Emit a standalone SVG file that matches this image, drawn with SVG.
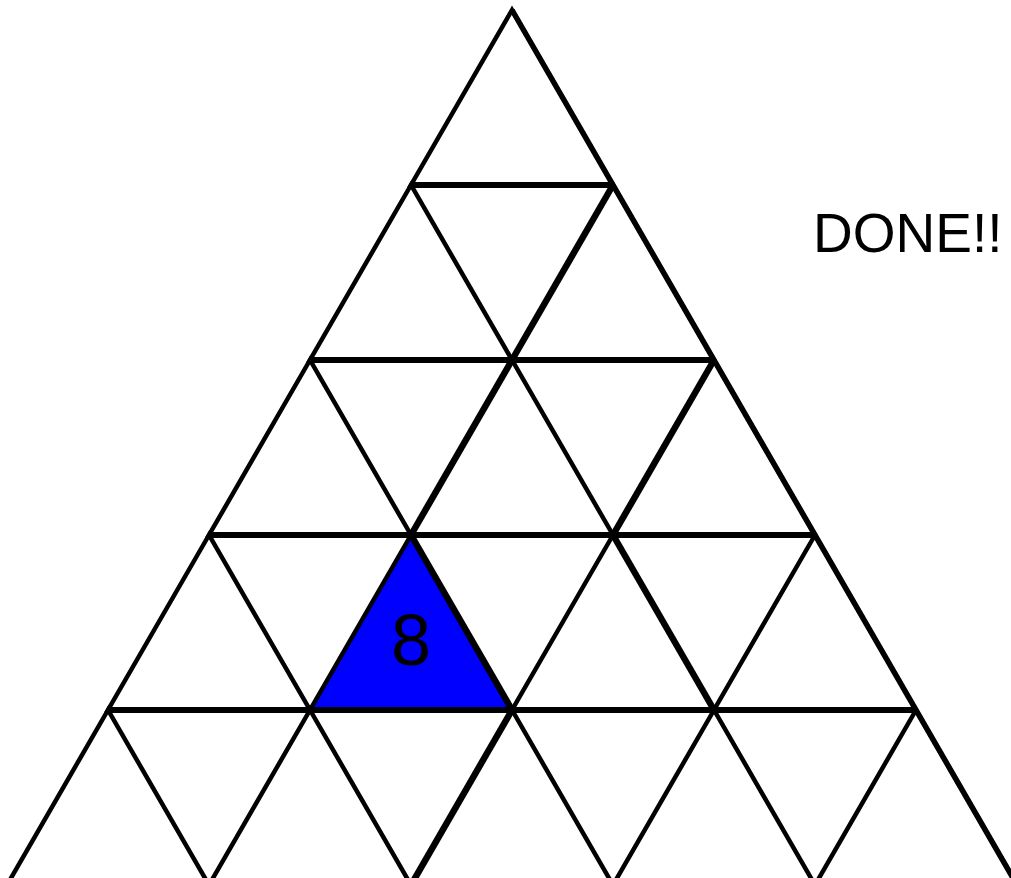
<svg xmlns="http://www.w3.org/2000/svg" width="1011" height="878" viewBox="0 0 1011 878">
<style>
.t{fill:#fff;stroke:#000;stroke-width:4.5;stroke-linejoin:miter}
.b{fill:#0000ff;stroke:#000;stroke-width:4.5}
.h{stroke:#000;stroke-width:6;fill:none}
.k{stroke:#000;stroke-width:6.5;fill:none}
.r{stroke:#000;stroke-width:5.5;fill:none}
.lbl{font-family:"Liberation Sans",Arial,sans-serif;fill:#000}
</style>
<rect width="1011" height="878" fill="#fff"/>
<g id="grid">
<polygon class="t" points="512,10 411,185 613,185"/>
<polygon class="t" points="411,185 310,360 512,360"/>
<polygon class="t" points="613,185 512,360 714,360"/>
<polygon class="t" points="310,360 209,535 411,535"/>
<polygon class="t" points="512,360 411,535 613,535"/>
<polygon class="t" points="714,360 613,535 815,535"/>
<polygon class="t" points="209,535 108,710 310,710"/>
<polygon class="t" points="613,535 512,710 714,710"/>
<polygon class="t" points="815,535 714,710 916,710"/>
<polygon class="t" points="108,710 7,885 209,885"/>
<polygon class="t" points="310,710 209,885 411,885"/>
<polygon class="t" points="512,710 411,885 613,885"/>
<polygon class="t" points="714,710 613,885 815,885"/>
<polygon class="t" points="916,710 815,885 1017,885"/>
</g>
<g id="node8">
<polygon class="b" points="411,535 310,710 512,710"/>
<text class="lbl" x="411" y="665" font-size="72" text-anchor="middle">8</text>
</g>
<g id="connectors">
<line class="h" x1="411" y1="185" x2="613" y2="185"/>
<line class="h" x1="310" y1="360" x2="714" y2="360"/>
<line class="h" x1="209" y1="535" x2="815" y2="535"/>
<line class="h" x1="108" y1="710" x2="916" y2="710"/>
<line class="k" x1="613" y1="185" x2="512" y2="360"/>
<line class="k" x1="512" y1="360" x2="411" y2="535"/>
<line class="k" x1="714" y1="360" x2="613" y2="535"/>
<line class="k" x1="613" y1="535" x2="714" y2="710"/>
<line class="k" x1="411" y1="535" x2="512" y2="710"/>
<line class="k" x1="512" y1="710" x2="411" y2="885"/>
<line class="r" x1="512" y1="10" x2="1017" y2="885"/>
</g>
<g id="done">
<text class="lbl" x="813" y="252" font-size="55">DONE!!</text>
</g>
</svg>
